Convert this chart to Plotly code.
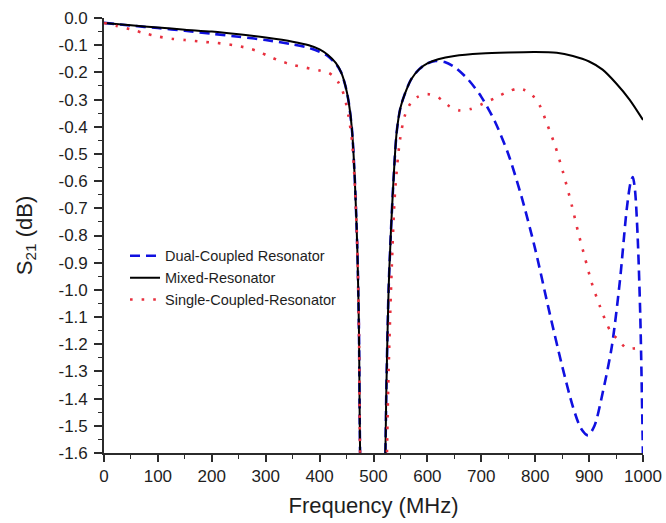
import plotly.graph_objects as go

# ---- data ----
freq_mixed = [0, 50, 100, 150, 200, 250, 300, 350, 380, 400, 415, 430, 440, 448, 454, 460, 465, 470, 473, 476,
              498, 521, 524, 528, 532, 537, 543, 550, 558, 570, 585, 600, 620, 650, 700, 750, 800, 840, 870,
              900, 925, 950, 975, 1000]
s21_mixed = [-0.018, -0.027, -0.035, -0.043, -0.050, -0.060, -0.072, -0.087, -0.100, -0.115, -0.135, -0.165,
             -0.20, -0.25, -0.31, -0.41, -0.58, -0.85, -1.15, -1.70,
             -3.0, -1.70, -1.35, -1.0, -0.80, -0.60, -0.42, -0.33, -0.28, -0.225, -0.188, -0.167, -0.152,
             -0.140, -0.131, -0.127, -0.125, -0.128, -0.140, -0.160, -0.190, -0.240, -0.300, -0.375]

freq_dual = [0, 50, 100, 150, 200, 250, 300, 350, 380, 400, 415, 430, 440, 448, 454, 460, 465, 470, 473, 476,
             498, 521, 524, 528, 532, 537, 543, 550, 558, 570, 585, 600, 615, 632, 650, 675, 700, 725, 750,
             775, 800, 825, 850, 870, 885, 898, 910, 925, 942, 957, 970, 977, 981, 985, 990, 995, 1000]
s21_dual = [-0.018, -0.028, -0.037, -0.047, -0.058, -0.069, -0.081, -0.097, -0.110, -0.124, -0.140, -0.168,
            -0.20, -0.25, -0.31, -0.41, -0.58, -0.85, -1.15, -1.70,
            -3.0, -1.70, -1.35, -1.0, -0.80, -0.60, -0.42, -0.33, -0.28, -0.225, -0.188, -0.167, -0.158,
            -0.162, -0.180, -0.225, -0.290, -0.380, -0.500, -0.660, -0.850, -1.070, -1.280, -1.430, -1.510,
            -1.535, -1.500, -1.380, -1.210, -0.970, -0.700, -0.605, -0.585, -0.630, -0.800, -1.100, -1.620]

freq_single = [0, 25, 50, 75, 100, 125, 150, 180, 210, 240, 265, 285, 305, 325, 350, 375, 400, 415, 425, 435,
               442, 448, 454, 460, 465, 470, 473, 476, 499, 522, 525, 528, 534, 540, 549, 558, 570, 582, 600,
               620, 641, 660, 680, 703, 725, 745, 766, 780, 795, 808, 822, 837, 852, 868, 880, 892, 905, 920,
               939, 952, 970, 985, 1000]
s21_single = [-0.018, -0.030, -0.042, -0.056, -0.068, -0.076, -0.081, -0.087, -0.092, -0.100, -0.110, -0.122,
              -0.140, -0.157, -0.172, -0.183, -0.193, -0.200, -0.213, -0.237,
              -0.265, -0.305, -0.365, -0.45, -0.60, -0.85, -1.15, -1.70, -3.0, -2.0, -1.60, -1.30, -0.91,
              -0.64, -0.45, -0.36, -0.31, -0.29, -0.280, -0.292, -0.325, -0.340, -0.335, -0.315, -0.295,
              -0.275, -0.260, -0.265, -0.285, -0.320, -0.390, -0.470, -0.570, -0.690, -0.790, -0.880, -0.975,
              -1.060, -1.150, -1.180, -1.215, -1.215, -1.210]

series_names = ["Dual-Coupled Resonator", "Mixed-Resonator", "Single-Coupled-Resonator"]

x_tick_vals = [0, 100, 200, 300, 400, 500, 600, 700, 800, 900, 1000]
x_tick_labels = ["0", "100", "200", "300", "400", "500", "600", "700", "800", "900", "1000"]
y_tick_vals = [0.0, -0.1, -0.2, -0.3, -0.4, -0.5, -0.6, -0.7, -0.8, -0.9, -1.0, -1.1, -1.2, -1.3, -1.4, -1.5, -1.6]
y_tick_labels = ["0.0", "-0.1", "-0.2", "-0.3", "-0.4", "-0.5", "-0.6", "-0.7", "-0.8", "-0.9", "-1.0",
                 "-1.1", "-1.2", "-1.3", "-1.4", "-1.5", "-1.6"]

FONT = "Liberation Sans, Arial, sans-serif"
TXT = "#1e1e1e"
AX = "#2b2b2b"

fig = go.Figure()
fig.add_trace(go.Scatter(x=freq_dual, y=s21_dual, name=series_names[0], mode="lines",
                         line=dict(color="#1010e0", width=2.6, dash="10px,6px", shape="spline", smoothing=0.8)))
fig.add_trace(go.Scatter(x=freq_mixed, y=s21_mixed, name=series_names[1], mode="lines",
                         line=dict(color="#000000", width=2.0, shape="spline", smoothing=0.8)))
fig.add_trace(go.Scatter(x=freq_single, y=s21_single, name=series_names[2], mode="lines",
                         line=dict(color="#e8303e", width=2.6, dash="2.6px,9px", shape="spline", smoothing=0.8)))

fig.update_layout(
    width=666, height=523,
    margin=dict(l=104, r=23, t=18, b=70, autoexpand=False),
    paper_bgcolor="white", plot_bgcolor="white",
    font=dict(family=FONT, color=TXT),
    showlegend=True,
    legend=dict(x=0.039, y=0.49, xanchor="left", yanchor="top",
                bgcolor="rgba(0,0,0,0)", borderwidth=0,
                font=dict(family=FONT, size=14.5, color=TXT),
                tracegroupgap=0, itemwidth=30),
)

fig.update_xaxes(
    range=[0, 1000], showgrid=False, zeroline=False,
    showline=True, linecolor=AX, linewidth=1.6, mirror=False,
    tickmode="array", tickvals=x_tick_vals, ticktext=x_tick_labels,
    ticks="outside", ticklen=7, tickwidth=1.5, tickcolor=AX,
    minor=dict(ticks="outside", ticklen=4, tickwidth=1.3, tickcolor=AX, dtick=50, tick0=0, showgrid=False),
    tickfont=dict(family=FONT, size=17, color=TXT),
    title=dict(text="Frequency (MHz)", font=dict(family=FONT, size=22, color=TXT), standoff=12),
    automargin=False,
)
fig.update_yaxes(
    range=[-1.6, 0.0], showgrid=False, zeroline=False,
    showline=True, linecolor=AX, linewidth=1.6, mirror=False,
    tickmode="array", tickvals=y_tick_vals, ticktext=y_tick_labels,
    ticks="outside", ticklen=8, tickwidth=1.5, tickcolor=AX,
    minor=dict(ticks="outside", ticklen=4, tickwidth=1.3, tickcolor=AX, dtick=0.05, tick0=0, showgrid=False),
    tickfont=dict(family=FONT, size=17, color=TXT),
    ticklabelstandoff=3,
    title=dict(text="S<sub>21</sub> (dB)", font=dict(family=FONT, size=22, color=TXT), standoff=20),
    automargin=False,
)

fig.write_html("out.html", config={"displayModeBar": False},
               post_script="document.body.style.margin='0';document.body.style.padding='0';")
